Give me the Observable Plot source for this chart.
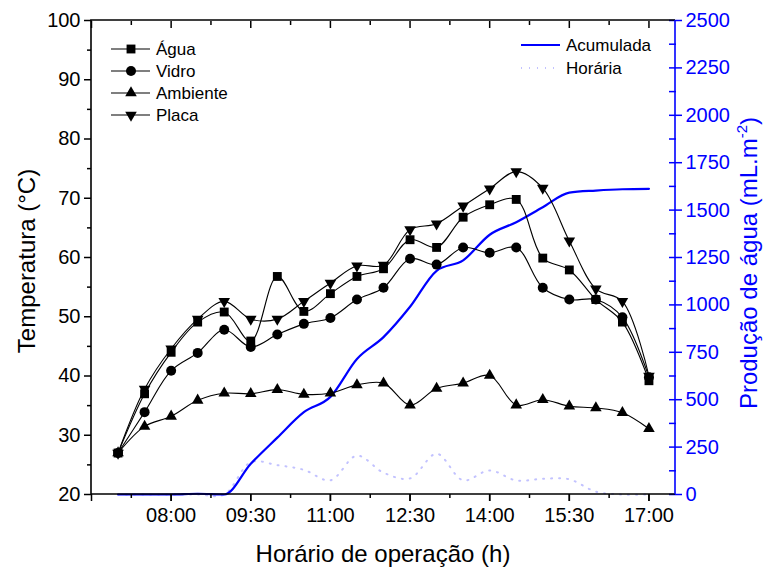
<!DOCTYPE html>
<html>
<head>
<meta charset="utf-8">
<script src="https://cdn.jsdelivr.net/npm/d3@7"></script>
<script src="https://cdn.jsdelivr.net/npm/@observablehq/plot@0.6"></script>
<style>
  body { margin: 0; background: #fff; }
  #chart svg { font-family: "Liberation Sans", Arial, sans-serif; }
</style>
</head>
<body>
<div id="chart"></div>
<script>
// Measurement times (every 30 min)
const horarios = ["07:00","07:30","08:00","08:30","09:00","09:30","10:00","10:30","11:00","11:30",
                  "12:00","12:30","13:00","13:30","14:00","14:30","15:00","15:30","16:00","16:30","17:00"];

// Temperatures (°C)
const agua     = [27, 37, 44, 49.1, 50.8, 45.9, 56.8, 50.9, 53.9, 56.8, 58.1, 63.0, 61.7, 66.8, 68.9, 69.8, 59.9, 57.9, 52.9, 49.1, 39.2];
const vidro    = [27, 33.9, 40.9, 43.9, 47.8, 44.9, 47.0, 48.8, 49.8, 52.9, 54.9, 59.8, 58.8, 61.7, 60.8, 61.7, 54.9, 52.9, 52.9, 49.9, 39.8];
const ambiente = [27, 31.5, 33.2, 35.9, 37.1, 37.0, 37.7, 36.9, 37.1, 38.5, 38.8, 35.1, 37.9, 38.8, 40.1, 35.1, 36.0, 34.9, 34.6, 33.8, 31.1];
const placa    = [27, 37.8, 44.6, 49.6, 52.6, 49.6, 49.6, 52.6, 55.7, 58.6, 58.7, 64.7, 65.7, 68.7, 71.6, 74.5, 71.7, 62.8, 54.7, 52.6, 40.0];

// Water production (mL.m-2)
const acumulada = [0, 0, 0, 4, 0, 162, 300, 434, 515, 715, 830, 990, 1180, 1235, 1370, 1436, 1515, 1592, 1603, 1610, 1612];
const horaria   = [0, 0, 0, 0, 0, 170, 155, 130, 75, 205, 115, 85, 215, 75, 127, 74, 83, 80, 15, 0, 0];

// Axis ticks
const ticksTempo  = ["08:00","09:30","11:00","12:30","14:00","15:30","17:00"];
const ticksTemp   = [20, 30, 40, 50, 60, 70, 80, 90, 100];
const ticksProd   = [0, 250, 500, 750, 1000, 1250, 1500, 1750, 2000, 2250, 2500];

const AZUL = "#0000ff";
const LILAS = "#c2c2ff";
const PROD_MAX = 2500;
const TEMP_MIN = 20, TEMP_MAX = 100;

const toHours = s => { const [h, m] = s.split(":").map(Number); return h + m / 60; };
const fmtHora = h => String(Math.floor(h)).padStart(2, "0") + ":" + String(Math.round((h % 1) * 60)).padStart(2, "0");
// production values share the temperature scale, mapped onto [20, 100]
const prodToTemp = v => TEMP_MIN + v * (TEMP_MAX - TEMP_MIN) / PROD_MAX;
const tempToProd = t => (t - TEMP_MIN) * PROD_MAX / (TEMP_MAX - TEMP_MIN);
const blank = () => "";

const series = [
  {nome: "Água",     valores: agua,     symbol: "square",   r: 5,   rotate: 0},
  {nome: "Vidro",    valores: vidro,    symbol: "circle",   r: 5,   rotate: 0},
  {nome: "Ambiente", valores: ambiente, symbol: "triangle", r: 4.3, rotate: 0},
  {nome: "Placa",    valores: placa,    symbol: "triangle", r: 4.3, rotate: 180}
];

const prod = horarios.map((h, i) => ({t: toHours(h), acumulada: acumulada[i], horaria: horaria[i]}));

const majorX = [6.5, ...ticksTempo.map(toHours)];
const minorX = majorX.map(v => v + 0.75).filter(v => v < 17.5);
const minorY = ticksTemp.slice(0, -1).map(v => v + 5);
const minorProd = ticksProd.slice(0, -1).map(v => v + 125);

const marks = [
  Plot.line(prod, {x: "t", y: d => prodToTemp(d.horaria), stroke: LILAS, strokeWidth: 2,
                   strokeDasharray: "1,7", curve: "catmull-rom"}),
  Plot.line(prod, {x: "t", y: d => prodToTemp(d.acumulada), stroke: AZUL, strokeWidth: 2.2,
                   curve: "monotone-x"})
];
for (const s of series) {
  const rows = s.valores.map((v, i) => ({t: toHours(horarios[i]), v}));
  marks.push(Plot.line(rows, {x: "t", y: "v", stroke: "black", strokeWidth: 1.1, curve: "catmull-rom"}));
  marks.push(Plot.dot(rows, {x: "t", y: "v", symbol: s.symbol, r: s.r, rotate: s.rotate, fill: "black", stroke: "none"}));
}
marks.push(
  // bottom axis
  Plot.axisX(ticksTempo.map(toHours), {tickFormat: fmtHora, tickSize: 7, tickPadding: 6, fontSize: 20, label: null, strokeWidth: 1.5}),
  Plot.axisX(majorX, {anchor: "bottom", tickSize: 7, tickFormat: blank, label: null, strokeWidth: 1.5}),
  Plot.axisX(minorX, {anchor: "bottom", tickSize: 4, tickFormat: blank, label: null, strokeWidth: 1.5}),
  // top axis (ticks pointing into the frame)
  Plot.axisX(majorX, {anchor: "top", tickSize: -7, tickFormat: blank, label: null, strokeWidth: 1.5}),
  Plot.axisX(minorX, {anchor: "top", tickSize: -4, tickFormat: blank, label: null, strokeWidth: 1.5}),
  // left axis
  Plot.axisY(ticksTemp, {tickSize: 7, tickPadding: 4, fontSize: 20, label: null, strokeWidth: 1.5}),
  Plot.axisY(minorY, {anchor: "left", tickSize: 4, tickFormat: blank, label: null, strokeWidth: 1.5}),
  // right axis (water production)
  Plot.axisY(ticksProd.map(prodToTemp), {anchor: "right", tickFormat: d => String(Math.round(tempToProd(d))),
             tickSize: 6, tickPadding: 4, fontSize: 20, label: null, color: AZUL, strokeWidth: 1.5}),
  Plot.axisY(minorProd.map(prodToTemp), {anchor: "right", tickSize: -7, tickFormat: blank, label: null, color: AZUL, strokeWidth: 1.5}),
  Plot.axisY(ticksProd.map(prodToTemp), {anchor: "right", tickSize: -7, tickFormat: blank, label: null, color: AZUL, strokeWidth: 1.5})
);

const chart = Plot.plot({
  width: 765, height: 569,
  marginLeft: 91, marginRight: 90, marginTop: 20, marginBottom: 75,
  style: {background: "white", color: "black", fontFamily: '"Liberation Sans", Arial, sans-serif'},
  x: {domain: [6.5, 17.5]},
  y: {domain: [TEMP_MIN, TEMP_MAX]},
  marks
});
document.getElementById("chart").appendChild(chart);

// frame, titles and legends
const svg = d3.select(chart);
const X = chart.scale("x"), Y = chart.scale("y");
const [x0, x1] = X.range, [y0, y1] = Y.range; // y0 bottom, y1 top
const frame = svg.append("g").attr("stroke-width", 1.6).attr("fill", "none");
frame.append("path").attr("stroke", "black").attr("d", `M${x1},${y1}H${x0}V${y0}H${x1}`);
frame.append("path").attr("stroke", AZUL).attr("d", `M${x1},${y1}V${y0}`);

svg.append("text").attr("transform", `translate(${(x0 + x1) / 2},${y0 + 68})`)
  .attr("text-anchor", "middle").attr("font-size", 24).text("Horário de operação (h)");
svg.append("text").attr("transform", `translate(35,${(y0 + y1) / 2 + 4}) rotate(-90)`)
  .attr("text-anchor", "middle").attr("font-size", 24).text("Temperatura (°C)");
const rt = svg.append("text").attr("transform", `translate(757,${(y0 + y1) / 2 + 6}) rotate(-90)`)
  .attr("text-anchor", "middle").attr("font-size", 24).attr("fill", AZUL);
rt.append("tspan").text("Produção de água (mL.m");
rt.append("tspan").attr("font-size", 15).attr("dy", -10).text("-2");
rt.append("tspan").attr("dy", 10).text(")");

// temperature legend
const leg = svg.append("g").attr("font-size", 17).attr("text-anchor", "start");
series.forEach((s, i) => {
  const cy = 49 + i * 22;
  leg.append("line").attr("x1", 111).attr("x2", 150).attr("y1", cy).attr("y2", cy).attr("stroke", "black").attr("stroke-width", 1.1);
  const sym = d3.symbol(s.symbol === "square" ? d3.symbolSquare : s.symbol === "circle" ? d3.symbolCircle : d3.symbolTriangle, Math.PI * s.r * s.r);
  leg.append("path").attr("d", sym()).attr("transform", `translate(131,${cy}) rotate(${s.rotate})`).attr("fill", "black");
  leg.append("text").attr("x", 156).attr("y", cy).attr("dy", "0.35em").text(s.nome);
});
// production legend
const leg2 = svg.append("g").attr("font-size", 17).attr("text-anchor", "start");
leg2.append("line").attr("x1", 521).attr("x2", 560).attr("y1", 45).attr("y2", 45).attr("stroke", AZUL).attr("stroke-width", 2.2);
leg2.append("text").attr("x", 566).attr("y", 45).attr("dy", "0.35em").text("Acumulada");
leg2.append("line").attr("x1", 521).attr("x2", 560).attr("y1", 68).attr("y2", 68).attr("stroke", LILAS).attr("stroke-width", 2).attr("stroke-dasharray", "1,7");
leg2.append("text").attr("x", 566).attr("y", 68).attr("dy", "0.35em").text("Horária");
</script>
</body>
</html>
